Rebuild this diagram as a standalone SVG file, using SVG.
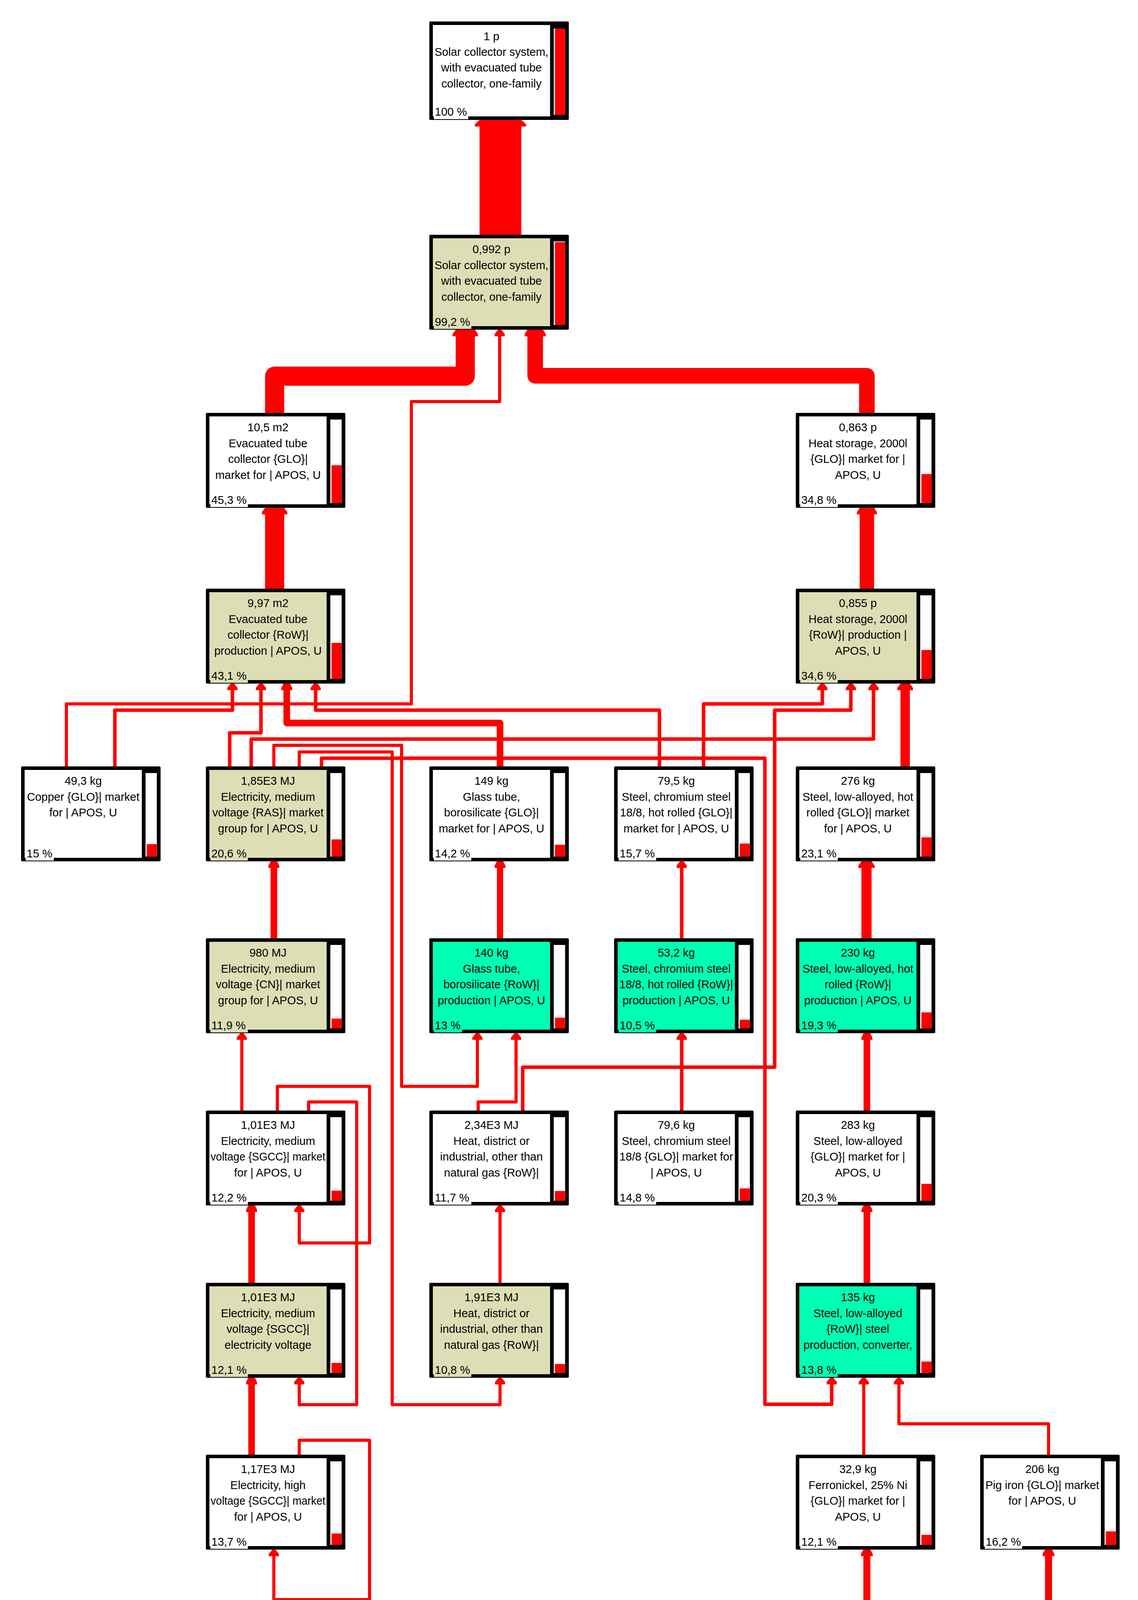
<svg xmlns="http://www.w3.org/2000/svg" width="2913" height="4457" viewBox="0 0 2913 4457">
<defs>
<style>
.f{fill:#000}
.w{fill:#fff}
.b{fill:#DDDEB5}
.g{fill:#00FFB4}
.bar{fill:#fff}
.lv{fill:#f00}
.t{font-family:"Liberation Sans",Arial,sans-serif;font-size:29px;fill:#000;text-anchor:middle}
.ts{font-family:"Liberation Sans",Arial,sans-serif;font-size:29px;fill:#000;text-anchor:start}
.p{font-family:"Liberation Sans",Arial,sans-serif;font-size:29px;fill:#000}
.c{fill:none;stroke:#f00;stroke-linejoin:round}
.h{fill:#f00}
</style>
</defs>
<rect width="2913" height="4457" fill="#fff"/>

<g id="connectors">
<path class="c" style="stroke-width:107" d="M1281,601 V317"/>
<polygon class="h" points="1227.5,307 1334.5,307 1346.5,318 1346.5,324 1215.5,324 1215.5,318"/>
<path class="c" style="stroke-width:49" d="M703,1057 V963 H1191 V854"/>
<polygon class="h" points="1166.5,844 1215.5,844 1223.5,855 1223.5,861 1158.5,861 1158.5,855"/>
<path class="c" style="stroke-width:40" d="M2219,1057 V962 H1370 V854"/>
<polygon class="h" points="1350,844 1390,844 1397,855 1397,861 1343,861 1343,855"/>
<path class="c" style="stroke-width:8" d="M170,1962 V1802 H1053 V1028 H1279 V854"/>
<polygon class="h" points="1275,844 1283,844 1292,855 1292,861 1266,861 1266,855"/>
<path class="c" style="stroke-width:49" d="M703,1507 V1310"/>
<polygon class="h" points="678.5,1300 727.5,1300 735.5,1311 735.5,1317 670.5,1317 670.5,1311"/>
<path class="c" style="stroke-width:37" d="M2219,1507 V1310"/>
<polygon class="h" points="2200.5,1300 2237.5,1300 2244.5,1311 2244.5,1317 2193.5,1317 2193.5,1311"/>
<path class="c" style="stroke-width:17" d="M1280,1962 V1851 H734 V1760"/>
<polygon class="h" points="725.5,1750 742.5,1750 748,1761 748,1767 720,1767 720,1761"/>
<path class="c" style="stroke-width:9" d="M294,1962 V1818 H595 V1760"/>
<polygon class="h" points="590.5,1750 599.5,1750 608,1761 608,1767 582,1767 582,1761"/>
<path class="c" style="stroke-width:9" d="M588,1962 V1876 H668 V1760"/>
<polygon class="h" points="663.5,1750 672.5,1750 681,1761 681,1767 655,1767 655,1761"/>
<path class="c" style="stroke-width:9" d="M1688,1962 V1818 H808 V1760"/>
<polygon class="h" points="803.5,1750 812.5,1750 821,1761 821,1767 795,1767 795,1761"/>
<path class="c" style="stroke-width:9" d="M1801,1962 V1802 H2105 V1760"/>
<polygon class="h" points="2100.5,1750 2109.5,1750 2118,1761 2118,1767 2092,1767 2092,1761"/>
<path class="c" style="stroke-width:9" d="M1338,2843 V2732 H1983 V1818 H2178 V1760"/>
<polygon class="h" points="2173.5,1750 2182.5,1750 2191,1761 2191,1767 2165,1767 2165,1761"/>
<path class="c" style="stroke-width:9" d="M643,1962 V1892 H2236 V1760"/>
<polygon class="h" points="2231.5,1750 2240.5,1750 2249,1761 2249,1767 2223,1767 2223,1761"/>
<path class="c" style="stroke-width:24" d="M2317,1962 V1760"/>
<polygon class="h" points="2305,1750 2329,1750 2337,1761 2337,1767 2297,1767 2297,1761"/>
<path class="c" style="stroke-width:9" d="M823,1962 V1941 H1958 V3595 H2129 V3537"/>
<polygon class="h" points="2124.5,3527 2133.5,3527 2142,3538 2142,3544 2116,3544 2116,3538"/>
<path class="c" style="stroke-width:8" d="M701,1962 V1908 H1028 V2781 H1222 V2655"/>
<polygon class="h" points="1218,2645 1226,2645 1235,2656 1235,2662 1209,2662 1209,2656"/>
<path class="c" style="stroke-width:8" d="M766,1962 V1925 H1004 V3596 H1280 V3537"/>
<polygon class="h" points="1276,3527 1284,3527 1293,3538 1293,3544 1267,3544 1267,3538"/>
<path class="c" style="stroke-width:17" d="M701,2402 V2215"/>
<polygon class="h" points="692.5,2205 709.5,2205 715,2216 715,2222 687,2222 687,2216"/>
<path class="c" style="stroke-width:16" d="M1280,2402 V2215"/>
<polygon class="h" points="1272,2205 1288,2205 1294,2216 1294,2222 1266,2222 1266,2216"/>
<path class="c" style="stroke-width:9" d="M1745,2402 V2215"/>
<polygon class="h" points="1740.5,2205 1749.5,2205 1758,2216 1758,2222 1732,2222 1732,2216"/>
<path class="c" style="stroke-width:26" d="M2218,2402 V2215"/>
<polygon class="h" points="2205,2205 2231,2205 2239,2216 2239,2222 2197,2222 2197,2216"/>
<path class="c" style="stroke-width:8" d="M619,2843 V2655"/>
<polygon class="h" points="615,2645 623,2645 632,2656 632,2662 606,2662 606,2656"/>
<path class="c" style="stroke-width:8" d="M710,2843 V2781 H946 V3182 H766 V3096"/>
<polygon class="h" points="762,3086 770,3086 779,3097 779,3103 753,3103 753,3097"/>
<path class="c" style="stroke-width:8" d="M790,2843 V2821 H913 V3596 H766 V3537"/>
<polygon class="h" points="762,3527 770,3527 779,3538 779,3544 753,3544 753,3538"/>
<path class="c" style="stroke-width:17" d="M644,3284 V3096"/>
<polygon class="h" points="635.5,3086 652.5,3086 658,3097 658,3103 630,3103 630,3097"/>
<path class="c" style="stroke-width:17" d="M644,3724 V3537"/>
<polygon class="h" points="635.5,3527 652.5,3527 658,3538 658,3544 630,3544 630,3538"/>
<path class="c" style="stroke-width:8" d="M766,3724 V3687 H946 V4095 H701 V3977"/>
<polygon class="h" points="697,3967 705,3967 714,3978 714,3984 688,3984 688,3978"/>
<path class="c" style="stroke-width:8" d="M1224,2843 V2821 H1321 V2655"/>
<polygon class="h" points="1317,2645 1325,2645 1334,2656 1334,2662 1308,2662 1308,2656"/>
<path class="c" style="stroke-width:8" d="M1280,3284 V3096"/>
<polygon class="h" points="1276,3086 1284,3086 1293,3097 1293,3103 1267,3103 1267,3097"/>
<path class="c" style="stroke-width:9" d="M1745,2843 V2655"/>
<polygon class="h" points="1740.5,2645 1749.5,2645 1758,2656 1758,2662 1732,2662 1732,2656"/>
<path class="c" style="stroke-width:17" d="M2219,2843 V2655"/>
<polygon class="h" points="2210.5,2645 2227.5,2645 2233,2656 2233,2662 2205,2662 2205,2656"/>
<path class="c" style="stroke-width:17" d="M2219,3284 V3096"/>
<polygon class="h" points="2210.5,3086 2227.5,3086 2233,3097 2233,3103 2205,3103 2205,3097"/>
<path class="c" style="stroke-width:8" d="M2211,3724 V3537"/>
<polygon class="h" points="2207,3527 2215,3527 2224,3538 2224,3544 2198,3544 2198,3538"/>
<path class="c" style="stroke-width:8" d="M2684,3724 V3645 H2301 V3537"/>
<polygon class="h" points="2297,3527 2305,3527 2314,3538 2314,3544 2288,3544 2288,3538"/>
<path class="c" style="stroke-width:18" d="M2219,4164 V3977"/>
<polygon class="h" points="2210,3967 2228,3967 2234,3978 2234,3984 2204,3984 2204,3978"/>
<path class="c" style="stroke-width:18" d="M2684,4164 V3977"/>
<polygon class="h" points="2675,3967 2693,3967 2699,3978 2699,3984 2669,3984 2669,3978"/>
</g>

<g id="n1" transform="translate(1099,55)">
<rect class="f" width="357" height="252" rx="3"/><rect class="w" x="9" y="9" width="300" height="234"/>
<rect class="bar" x="318.5" y="18" width="29" height="221"/><rect class="lv" x="321.5" y="18" width="26" height="221"/>
<text class="t" x="159" y="48">1 p</text><text class="t" x="159" y="88">Solar collector system,</text><text class="t" x="159" y="128">with evacuated tube</text><text class="t" x="159" y="169">collector, one-family</text>
<rect class="w" x="11.5" y="216" width="88" height="34"/><text class="p" x="14" y="241">100 %</text>
</g>

<g id="n2" transform="translate(1099,601)">
<rect class="f" width="357" height="243" rx="3"/><rect class="b" x="9" y="9" width="300" height="225"/>
<rect class="bar" x="318.5" y="17" width="29" height="214"/><rect class="lv" x="321.5" y="18.7" width="26" height="212.3"/>
<text class="t" x="159" y="47">0,992 p</text><text class="t" x="159" y="88">Solar collector system,</text><text class="t" x="159" y="128">with evacuated tube</text><text class="t" x="159" y="169">collector, one-family</text>
<rect class="b" x="11.5" y="207" width="96" height="34"/><text class="p" x="14" y="233">99,2 %</text>
</g>

<g id="n3" transform="translate(527,1057)">
<rect class="f" width="357" height="243" rx="3"/><rect class="w" x="9" y="9" width="300" height="225"/>
<rect class="bar" x="318.5" y="17" width="29" height="214"/><rect class="lv" x="321.5" y="134.1" width="26" height="96.9"/>
<text class="t" x="159" y="47">10,5 m2</text><text class="t" x="159" y="88">Evacuated tube</text><text class="t" x="159" y="128">collector {GLO}|</text><text class="t" x="159" y="169">market for | APOS, U</text>
<rect class="w" x="11.5" y="207" width="96" height="34"/><text class="p" x="14" y="233">45,3 %</text>
</g>

<g id="n4" transform="translate(2037,1057)">
<rect class="f" width="357" height="243" rx="3"/><rect class="w" x="9" y="9" width="300" height="225"/>
<rect class="bar" x="318.5" y="17" width="29" height="214"/><rect class="lv" x="321.5" y="156.5" width="26" height="74.5"/>
<text class="t" x="159" y="47">0,863 p</text><text class="t" x="159" y="88">Heat storage, 2000l</text><text class="t" x="159" y="128">{GLO}| market for |</text><text class="t" x="159" y="169">APOS, U</text>
<rect class="w" x="11.5" y="207" width="96" height="34"/><text class="p" x="14" y="233">34,8 %</text>
</g>

<g id="n5" transform="translate(527,1507)">
<rect class="f" width="357" height="243" rx="3"/><rect class="b" x="9" y="9" width="300" height="225"/>
<rect class="bar" x="318.5" y="17" width="29" height="214"/><rect class="lv" x="321.5" y="138.8" width="26" height="92.2"/>
<text class="t" x="159" y="47">9,97 m2</text><text class="t" x="159" y="88">Evacuated tube</text><text class="t" x="159" y="128">collector {RoW}|</text><text class="t" x="159" y="169">production | APOS, U</text>
<rect class="b" x="11.5" y="207" width="96" height="34"/><text class="p" x="14" y="233">43,1 %</text>
</g>

<g id="n6" transform="translate(2037,1507)">
<rect class="f" width="357" height="243" rx="3"/><rect class="b" x="9" y="9" width="300" height="225"/>
<rect class="bar" x="318.5" y="17" width="29" height="214"/><rect class="lv" x="321.5" y="157" width="26" height="74"/>
<text class="t" x="159" y="47">0,855 p</text><text class="t" x="159" y="88">Heat storage, 2000l</text><text class="t" x="159" y="128">{RoW}| production |</text><text class="t" x="159" y="169">APOS, U</text>
<rect class="b" x="11.5" y="207" width="96" height="34"/><text class="p" x="14" y="233">34,6 %</text>
</g>

<g id="n7" transform="translate(54,1962)">
<rect class="f" width="357" height="243" rx="3"/><rect class="w" x="9" y="9" width="300" height="225"/>
<rect class="bar" x="318.5" y="17" width="29" height="214"/><rect class="lv" x="321.5" y="198.9" width="26" height="32.1"/>
<text class="t" x="159" y="47">49,3 kg</text><text class="t" x="159" y="88">Copper {GLO}| market</text><text class="t" x="159" y="128">for | APOS, U</text>
<rect class="w" x="11.5" y="207" width="72" height="34"/><text class="p" x="14" y="233">15 %</text>
</g>

<g id="n8" transform="translate(527,1962)">
<rect class="f" width="357" height="243" rx="3"/><rect class="b" x="9" y="9" width="300" height="225"/>
<rect class="bar" x="318.5" y="17" width="29" height="214"/><rect class="lv" x="321.5" y="186.9" width="26" height="44.1"/>
<text class="t" x="159" y="47">1,85E3 MJ</text><text class="t" x="159" y="88">Electricity, medium</text><text class="t" x="159" y="128">voltage {RAS}| market</text><text class="t" x="159" y="169">group for | APOS, U</text>
<rect class="b" x="11.5" y="207" width="96" height="34"/><text class="p" x="14" y="233">20,6 %</text>
</g>

<g id="n9" transform="translate(1099,1962)">
<rect class="f" width="357" height="243" rx="3"/><rect class="w" x="9" y="9" width="300" height="225"/>
<rect class="bar" x="318.5" y="17" width="29" height="214"/><rect class="lv" x="321.5" y="200.6" width="26" height="30.4"/>
<text class="t" x="159" y="47">149 kg</text><text class="t" x="159" y="88">Glass tube,</text><text class="t" x="159" y="128">borosilicate {GLO}|</text><text class="t" x="159" y="169">market for | APOS, U</text>
<rect class="w" x="11.5" y="207" width="96" height="34"/><text class="p" x="14" y="233">14,2 %</text>
</g>

<g id="n10" transform="translate(1572,1962)">
<rect class="f" width="357" height="243" rx="3"/><rect class="w" x="9" y="9" width="300" height="225"/>
<rect class="bar" x="318.5" y="17" width="29" height="214"/><rect class="lv" x="321.5" y="197.4" width="26" height="33.6"/>
<text class="t" x="159" y="47">79,5 kg</text><text class="t" x="159" y="88">Steel, chromium steel</text><text class="t" x="159" y="128">18/8, hot rolled {GLO}|</text><text class="t" x="159" y="169">market for | APOS, U</text>
<rect class="w" x="11.5" y="207" width="96" height="34"/><text class="p" x="14" y="233">15,7 %</text>
</g>

<g id="n11" transform="translate(2037,1962)">
<rect class="f" width="357" height="243" rx="3"/><rect class="w" x="9" y="9" width="300" height="225"/>
<rect class="bar" x="318.5" y="17" width="29" height="214"/><rect class="lv" x="321.5" y="181.6" width="26" height="49.4"/>
<text class="t" x="159" y="47">276 kg</text><text class="t" x="159" y="88">Steel, low-alloyed, hot</text><text class="t" x="159" y="128">rolled {GLO}| market</text><text class="t" x="159" y="169">for | APOS, U</text>
<rect class="w" x="11.5" y="207" width="96" height="34"/><text class="p" x="14" y="233">23,1 %</text>
</g>

<g id="n12" transform="translate(527,2402)">
<rect class="f" width="357" height="243" rx="3"/><rect class="b" x="9" y="9" width="300" height="225"/>
<rect class="bar" x="318.5" y="17" width="29" height="214"/><rect class="lv" x="321.5" y="205.5" width="26" height="25.5"/>
<text class="t" x="159" y="47">980 MJ</text><text class="t" x="159" y="88">Electricity, medium</text><text class="t" x="159" y="128">voltage {CN}| market</text><text class="t" x="159" y="169">group for | APOS, U</text>
<rect class="b" x="11.5" y="207" width="96" height="34"/><text class="p" x="14" y="233">11,9 %</text>
</g>

<g id="n13" transform="translate(1099,2402)">
<rect class="f" width="357" height="243" rx="3"/><rect class="g" x="9" y="9" width="300" height="225"/>
<rect class="bar" x="318.5" y="17" width="29" height="214"/><rect class="lv" x="321.5" y="203.2" width="26" height="27.8"/>
<text class="t" x="159" y="47">140 kg</text><text class="t" x="159" y="88">Glass tube,</text><text class="t" x="159" y="128">borosilicate {RoW}|</text><text class="t" x="159" y="169">production | APOS, U</text>
<rect class="g" x="11.5" y="207" width="72" height="34"/><text class="p" x="14" y="233">13 %</text>
</g>

<g id="n14" transform="translate(1572,2402)">
<rect class="f" width="357" height="243" rx="3"/><rect class="g" x="9" y="9" width="300" height="225"/>
<rect class="bar" x="318.5" y="17" width="29" height="214"/><rect class="lv" x="321.5" y="208.5" width="26" height="22.5"/>
<text class="t" x="159" y="47">53,2 kg</text><text class="t" x="159" y="88">Steel, chromium steel</text><text class="t" x="159" y="128">18/8, hot rolled {RoW}|</text><text class="t" x="159" y="169">production | APOS, U</text>
<rect class="g" x="11.5" y="207" width="96" height="34"/><text class="p" x="14" y="233">10,5 %</text>
</g>

<g id="n15" transform="translate(2037,2402)">
<rect class="f" width="357" height="243" rx="3"/><rect class="g" x="9" y="9" width="300" height="225"/>
<rect class="bar" x="318.5" y="17" width="29" height="214"/><rect class="lv" x="321.5" y="189.7" width="26" height="41.3"/>
<text class="t" x="159" y="47">230 kg</text><text class="t" x="159" y="88">Steel, low-alloyed, hot</text><text class="t" x="159" y="128">rolled {RoW}|</text><text class="t" x="159" y="169">production | APOS, U</text>
<rect class="g" x="11.5" y="207" width="96" height="34"/><text class="p" x="14" y="233">19,3 %</text>
</g>

<g id="n16" transform="translate(527,2843)">
<rect class="f" width="357" height="243" rx="3"/><rect class="w" x="9" y="9" width="300" height="225"/>
<rect class="bar" x="318.5" y="17" width="29" height="214"/><rect class="lv" x="321.5" y="204.9" width="26" height="26.1"/>
<text class="t" x="159" y="47">1,01E3 MJ</text><text class="t" x="159" y="88">Electricity, medium</text><text class="ts" x="12" y="128" textLength="294" lengthAdjust="spacingAndGlyphs">voltage {SGCC}| market</text><text class="t" x="159" y="169">for | APOS, U</text>
<rect class="w" x="11.5" y="207" width="96" height="34"/><text class="p" x="14" y="233">12,2 %</text>
</g>

<g id="n17" transform="translate(1099,2843)">
<rect class="f" width="357" height="243" rx="3"/><rect class="w" x="9" y="9" width="300" height="225"/>
<rect class="bar" x="318.5" y="17" width="29" height="214"/><rect class="lv" x="321.5" y="206" width="26" height="25"/>
<text class="t" x="159" y="47">2,34E3 MJ</text><text class="t" x="159" y="88">Heat, district or</text><text class="t" x="159" y="128">industrial, other than</text><text class="t" x="159" y="169">natural gas {RoW}|</text>
<rect class="w" x="11.5" y="207" width="96" height="34"/><text class="p" x="14" y="233">11,7 %</text>
</g>

<g id="n18" transform="translate(1572,2843)">
<rect class="f" width="357" height="243" rx="3"/><rect class="w" x="9" y="9" width="300" height="225"/>
<rect class="bar" x="318.5" y="17" width="29" height="214"/><rect class="lv" x="321.5" y="199.3" width="26" height="31.7"/>
<text class="t" x="159" y="47">79,6 kg</text><text class="t" x="159" y="88">Steel, chromium steel</text><text class="t" x="159" y="128">18/8 {GLO}| market for</text><text class="t" x="159" y="169">| APOS, U</text>
<rect class="w" x="11.5" y="207" width="96" height="34"/><text class="p" x="14" y="233">14,8 %</text>
</g>

<g id="n19" transform="translate(2037,2843)">
<rect class="f" width="357" height="243" rx="3"/><rect class="w" x="9" y="9" width="300" height="225"/>
<rect class="bar" x="318.5" y="17" width="29" height="214"/><rect class="lv" x="321.5" y="187.6" width="26" height="43.4"/>
<text class="t" x="159" y="47">283 kg</text><text class="t" x="159" y="88">Steel, low-alloyed</text><text class="t" x="159" y="128">{GLO}| market for |</text><text class="t" x="159" y="169">APOS, U</text>
<rect class="w" x="11.5" y="207" width="96" height="34"/><text class="p" x="14" y="233">20,3 %</text>
</g>

<g id="n20" transform="translate(527,3284)">
<rect class="f" width="357" height="243" rx="3"/><rect class="b" x="9" y="9" width="300" height="225"/>
<rect class="bar" x="318.5" y="17" width="29" height="214"/><rect class="lv" x="321.5" y="205.1" width="26" height="25.9"/>
<text class="t" x="159" y="47">1,01E3 MJ</text><text class="t" x="159" y="88">Electricity, medium</text><text class="t" x="159" y="128">voltage {SGCC}|</text><text class="t" x="159" y="169">electricity voltage</text>
<rect class="b" x="11.5" y="207" width="96" height="34"/><text class="p" x="14" y="233">12,1 %</text>
</g>

<g id="n21" transform="translate(1099,3284)">
<rect class="f" width="357" height="243" rx="3"/><rect class="b" x="9" y="9" width="300" height="225"/>
<rect class="bar" x="318.5" y="17" width="29" height="214"/><rect class="lv" x="321.5" y="207.9" width="26" height="23.1"/>
<text class="t" x="159" y="47">1,91E3 MJ</text><text class="t" x="159" y="88">Heat, district or</text><text class="t" x="159" y="128">industrial, other than</text><text class="t" x="159" y="169">natural gas {RoW}|</text>
<rect class="b" x="11.5" y="207" width="96" height="34"/><text class="p" x="14" y="233">10,8 %</text>
</g>

<g id="n22" transform="translate(2037,3284)">
<rect class="f" width="357" height="243" rx="3"/><rect class="g" x="9" y="9" width="300" height="225"/>
<rect class="bar" x="318.5" y="17" width="29" height="214"/><rect class="lv" x="321.5" y="201.5" width="26" height="29.5"/>
<text class="t" x="159" y="47">135 kg</text><text class="t" x="159" y="88">Steel, low-alloyed</text><text class="t" x="159" y="128">{RoW}| steel</text><text class="t" x="159" y="169">production, converter,</text>
<rect class="g" x="11.5" y="207" width="96" height="34"/><text class="p" x="14" y="233">13,8 %</text>
</g>

<g id="n23" transform="translate(527,3724)">
<rect class="f" width="357" height="243" rx="3"/><rect class="w" x="9" y="9" width="300" height="225"/>
<rect class="bar" x="318.5" y="17" width="29" height="214"/><rect class="lv" x="321.5" y="201.7" width="26" height="29.3"/>
<text class="t" x="159" y="47">1,17E3 MJ</text><text class="t" x="159" y="88">Electricity, high</text><text class="ts" x="12" y="128" textLength="294" lengthAdjust="spacingAndGlyphs">voltage {SGCC}| market</text><text class="t" x="159" y="169">for | APOS, U</text>
<rect class="w" x="11.5" y="207" width="96" height="34"/><text class="p" x="14" y="233">13,7 %</text>
</g>

<g id="n24" transform="translate(2037,3724)">
<rect class="f" width="357" height="243" rx="3"/><rect class="w" x="9" y="9" width="300" height="225"/>
<rect class="bar" x="318.5" y="17" width="29" height="214"/><rect class="lv" x="321.5" y="205.1" width="26" height="25.9"/>
<text class="t" x="159" y="47">32,9 kg</text><text class="t" x="159" y="88">Ferronickel, 25% Ni</text><text class="t" x="159" y="128">{GLO}| market for |</text><text class="t" x="159" y="169">APOS, U</text>
<rect class="w" x="11.5" y="207" width="96" height="34"/><text class="p" x="14" y="233">12,1 %</text>
</g>

<g id="n25" transform="translate(2509,3724)">
<rect class="f" width="357" height="243" rx="3"/><rect class="w" x="9" y="9" width="300" height="225"/>
<rect class="bar" x="318.5" y="17" width="29" height="214"/><rect class="lv" x="321.5" y="196.3" width="26" height="34.7"/>
<text class="t" x="159" y="47">206 kg</text><text class="t" x="159" y="88">Pig iron {GLO}| market</text><text class="t" x="159" y="128">for | APOS, U</text>
<rect class="w" x="11.5" y="207" width="96" height="34"/><text class="p" x="14" y="233">16,2 %</text>
</g>

<g id="n26" transform="translate(2037,4164)">
<rect class="f" width="357" height="243" rx="3"/><rect class="g" x="9" y="9" width="300" height="225"/>
<rect class="bar" x="318.5" y="17" width="29" height="214"/><rect class="lv" x="321.5" y="205.1" width="26" height="25.9"/>
<text class="t" x="159" y="47">32,9 kg</text><text class="t" x="159" y="88">Ferronickel, 25% Ni</text><text class="t" x="159" y="128">{GLO}| production |</text><text class="t" x="159" y="169">APOS, U</text>
<rect class="g" x="11.5" y="207" width="96" height="34"/><text class="p" x="14" y="233">12,1 %</text>
</g>

<g id="n27" transform="translate(2509,4164)">
<rect class="f" width="357" height="243" rx="3"/><rect class="g" x="9" y="9" width="300" height="225"/>
<rect class="bar" x="318.5" y="17" width="29" height="214"/><rect class="lv" x="321.5" y="197.2" width="26" height="33.8"/>
<text class="t" x="159" y="47">206 kg</text><text class="t" x="159" y="88">Pig iron {GLO}|</text><text class="t" x="159" y="128">production | APOS, U</text>
<rect class="g" x="11.5" y="207" width="96" height="34"/><text class="p" x="14" y="233">15,8 %</text>
</g>
</svg>
